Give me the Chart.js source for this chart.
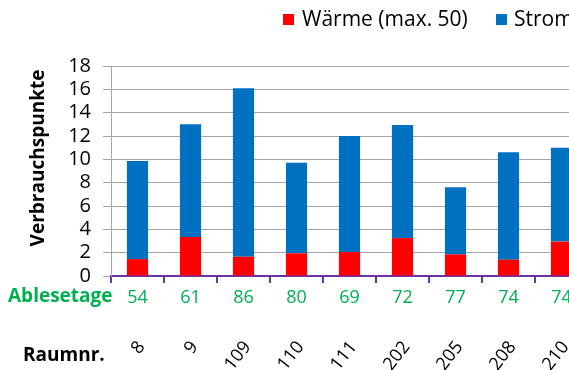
<!DOCTYPE html>
<html><head><meta charset="utf-8">
<script src="https://cdn.jsdelivr.net/npm/chart.js@4/dist/chart.umd.min.js"></script>
<style>
html,body{margin:0;padding:0;overflow:hidden;background:#fff;width:569px;height:370px}
#wrap{position:absolute;left:0;top:0;width:620px;height:370px}
</style></head><body>
<div id="wrap"><canvas id="c" width="620" height="370"></canvas></div>
<script>
// ---- data ----
const rooms = ['8','9','109','110','111','202','205','208','210'];
const readingDays = ['54','61','86','80','69','72','77','74','74'];
const heat = [1.45,3.35,1.65,1.95,2.05,3.25,1.85,1.4,2.95];
const power = [8.4,9.65,14.45,7.75,9.95,9.7,5.75,9.2,8.05];
const seriesLabels = ['Wärme (max. 50)','Strom'];
const yMin = 0, yMax = 18, yStep = 2;
const yTitle = 'Verbrauchspunkte';
const rowTitleDays = 'Ablesetage';
const rowTitleRooms = 'Raumnr.';

const FONT = '"Open Sans", "Noto Sans", sans-serif';
const RED = '#FF0000', BLUE = '#0070C0', GREEN = '#00B050', PURPLE = '#7030A0', GRID = '#A6A6A6';

const extraText = {
  id: 'extraText',
  afterDraw(chart) {
    const ctx = chart.ctx;
    ctx.save();
    // y axis title
    ctx.font = 'bold 19px ' + FONT;
    ctx.fillStyle = '#000';
    ctx.textAlign = 'center';
    ctx.textBaseline = 'middle';
    ctx.save();
    ctx.translate(39, 158);
    ctx.rotate(-Math.PI / 2);
    ctx.fillText(yTitle, 0, 0);
    ctx.restore();
    // row titles
    ctx.textAlign = 'left';
    ctx.textBaseline = 'alphabetic';
    ctx.fillStyle = GREEN;
    ctx.fillText(rowTitleDays, 8, 302);
    ctx.fillStyle = '#000';
    ctx.fillText(rowTitleRooms, 23, 361);
    // legend
    ctx.font = '21px ' + FONT;
    const items = [[283, 302], [496, 514]];
    chart.data.datasets.forEach((ds, i) => {
      ctx.fillStyle = ds.backgroundColor;
      ctx.fillRect(items[i][0], 14, 11, 11);
      ctx.fillStyle = '#000';
      ctx.fillText(ds.label, items[i][1], 26);
    });
    ctx.restore();
  }
};

new Chart(document.getElementById('c'), {
  type: 'bar',
  data: {
    labels: readingDays,
    datasets: [
      { label: seriesLabels[0], data: heat, backgroundColor: RED, xAxisID: 'x', yAxisID: 'y' },
      { label: seriesLabels[1], data: power, backgroundColor: BLUE, xAxisID: 'x', yAxisID: 'y' }
    ]
  },
  options: {
    responsive: false,
    devicePixelRatio: 1,
    animation: false,
    barPercentage: 0.4,
    categoryPercentage: 1.0,
    layout: { padding: { top: 66, left: 0, right: 32, bottom: 0 } },
    plugins: { legend: { display: false }, tooltip: { enabled: false } },
    scales: {
      x: {
        type: 'category',
        position: 'bottom',
        stacked: true,
        offset: true,
        grid: { offset: true, drawOnChartArea: false, drawTicks: true, tickLength: 7, color: PURPLE, lineWidth: 2 },
        border: { display: true, color: PURPLE, width: 2 },
        ticks: { color: GREEN, font: { family: FONT, size: 18 }, padding: 4, maxRotation: 0, autoSkip: false },
        afterFit(s) { s.height = 34; }
      },
      x2: {
        type: 'category',
        labels: rooms,
        position: 'bottom',
        offset: true,
        grid: { display: false, drawTicks: false },
        border: { display: false },
        ticks: { color: '#000', font: { family: FONT, size: 18 }, minRotation: 52, maxRotation: 52, padding: 27, labelOffset: 4, autoSkip: false },
        afterFit(s) { s.height = 60; }
      },
      y: {
        stacked: true,
        min: yMin, max: yMax,
        ticks: { stepSize: yStep, autoSkip: false, color: '#000', font: { family: FONT, size: 20 }, padding: 12 },
        grid: { color: GRID, lineWidth: 1, tickLength: 8 },
        border: { color: GRID, width: 1 },
        afterFit(s) { s.width = 111; }
      }
    }
  },
  plugins: [extraText]
});
</script>
</body></html>
